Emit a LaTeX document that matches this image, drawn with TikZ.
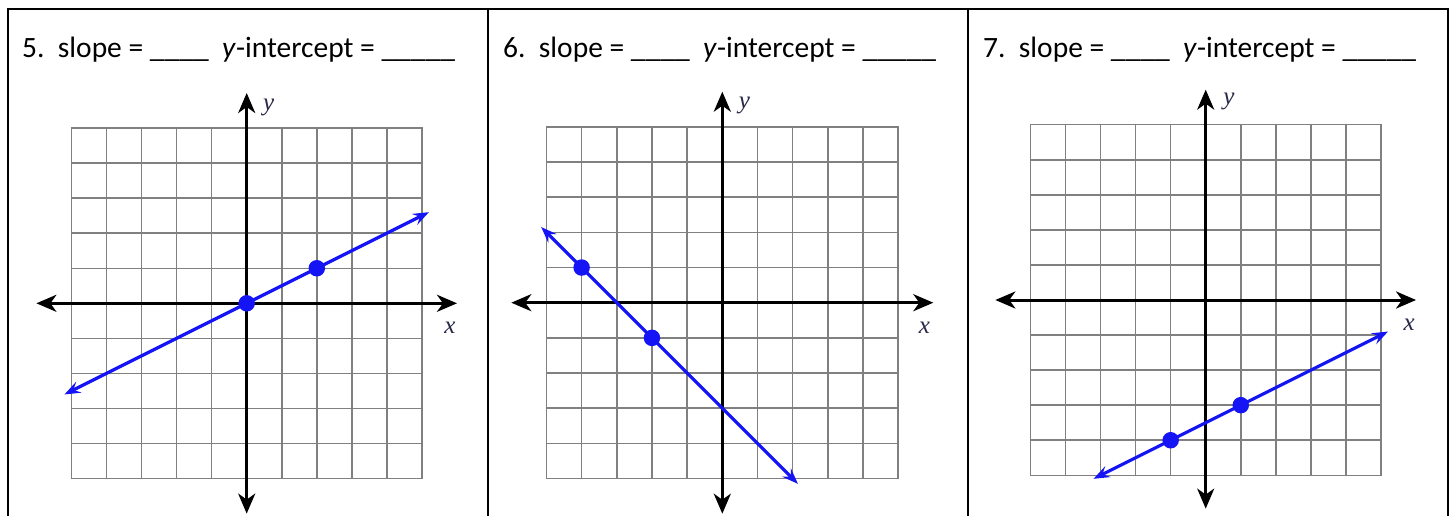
\documentclass[tikz,border=0pt]{standalone}
\usepackage{fontspec}
\setmainfont{Carlito}
\newfontfamily\lblfont{Liberation Serif}[ItalicFont={Liberation Serif Italic}]
\usetikzlibrary{arrows.meta}
\definecolor{lineblue}{RGB}{20,20,245}
\definecolor{gridgray}{RGB}{128,128,128}
\definecolor{lblcol}{RGB}{40,40,72}
\tikzset{
  frameline/.style={line width=2.5pt, black},
  gridline/.style={gridgray, line width=1.5pt, line cap=rect},
  axisline/.style={line width=3pt, black,
    {Stealth[length=20pt,width=17pt,inset=6pt]}-{Stealth[length=20pt,width=17pt,inset=6pt]}},
  graphline/.style={line width=3.2pt, lineblue,
    {Stealth[length=16pt,width=12pt,inset=6pt]}-{Stealth[length=16pt,width=12pt,inset=6pt]}},
  dotnode/.style={circle, fill=lineblue, inner sep=0pt, minimum size=16.5pt},
  titletext/.style={anchor=base west, inner sep=0pt, font=\fontsize{29.5}{35}\selectfont},
  axlabel/.style={font=\fontsize{25}{27}\lblfont\itshape, text=lblcol, inner sep=0pt},
}
\begin{document}
\begin{tikzpicture}[x=1pt,y=-1pt]
\useasboundingbox (0,0) rectangle (1455,516);
\fill[white] (0,0) rectangle (1455,516);
% frame
\draw[frameline] (8,518) -- (8,9) -- (1448,9) -- (1448,518);
\draw[frameline] (488,9) -- (488,518);
\draw[frameline] (968,9) -- (968,518);
% titles
\node[titletext] (t5) at (22,58) {5.\ \ slope = \_\_\_\_\ \ \textit{y}-intercept = \_\_\_\_\_};
\node[titletext] (t6) at (503,58) {6.\ \ slope = \_\_\_\_\ \ \textit{y}-intercept = \_\_\_\_\_};
\node[titletext] (t7) at (983,58) {7.\ \ slope = \_\_\_\_\ \ \textit{y}-intercept = \_\_\_\_\_};
% panel 1
\begin{scope}[shift={(246.7pt,-303.3pt)}, x=35.05pt, y=35.05pt]
  \foreach \i in {-5,...,5} {
    \draw[gridline] (\i,-5) -- (\i,5);
    \draw[gridline] (-5,\i) -- (5,\i);
  }
  \coordinate (p1xl) at (-6,0); \coordinate (p1xr) at (6,0);
  \coordinate (p1yb) at (0,-6); \coordinate (p1yt) at (0,6);
  \draw[axisline] (p1xl) -- (p1xr);
  \draw[axisline] (p1yb) -- (p1yt);
  \coordinate (p1la) at (-5.2,-2.6); \coordinate (p1lb) at (5.2,2.6);
  \draw[graphline] (p1la) -- (p1lb);
  \node[dotnode] (p1d1) at (0,0) {};
  \node[dotnode] (p1d2) at (2,1) {};
  \node[axlabel] (p1ly) at (0.63,5.6) {y};
  \node[axlabel] (p1lx) at (5.8,-0.7) {x};
\end{scope}
% panel 2
\begin{scope}[shift={(722.3pt,-302.7pt)}, x=35.17pt, y=35.17pt]
  \foreach \i in {-5,...,5} {
    \draw[gridline] (\i,-5) -- (\i,5);
    \draw[gridline] (-5,\i) -- (5,\i);
  }
  \coordinate (p2xl) at (-6,0); \coordinate (p2xr) at (6,0);
  \coordinate (p2yb) at (0,-6); \coordinate (p2yt) at (0,6);
  \draw[axisline] (p2xl) -- (p2xr);
  \draw[axisline] (p2yb) -- (p2yt);
  \coordinate (p2la) at (-5.15,2.15); \coordinate (p2lb) at (2.15,-5.15);
  \draw[graphline] (p2la) -- (p2lb);
  \node[dotnode] (p2d1) at (-4,1) {};
  \node[dotnode] (p2d2) at (-2,-1) {};
  \node[axlabel] (p2ly) at (0.63,5.6) {y};
  \node[axlabel] (p2lx) at (5.75,-0.7) {x};
\end{scope}
% panel 3
\begin{scope}[shift={(1205.7pt,-300pt)}, x=35.06pt, y=35.06pt]
  \foreach \i in {-5,...,5} {
    \draw[gridline] (\i,-5) -- (\i,5);
    \draw[gridline] (-5,\i) -- (5,\i);
  }
  \coordinate (p3xl) at (-6,0); \coordinate (p3xr) at (6,0);
  \coordinate (p3yb) at (0,-5.95); \coordinate (p3yt) at (0,6);
  \draw[axisline] (p3xl) -- (p3xr);
  \draw[axisline] (p3yb) -- (p3yt);
  \coordinate (p3la) at (-3.2,-5.1); \coordinate (p3lb) at (5.2,-0.9);
  \draw[graphline] (p3la) -- (p3lb);
  \node[dotnode] (p3d1) at (-1,-4) {};
  \node[dotnode] (p3d2) at (1,-3) {};
  \node[axlabel] (p3ly) at (0.66,5.65) {y};
  \node[axlabel] (p3lx) at (5.8,-0.7) {x};
\end{scope}
\end{tikzpicture}
\end{document}
